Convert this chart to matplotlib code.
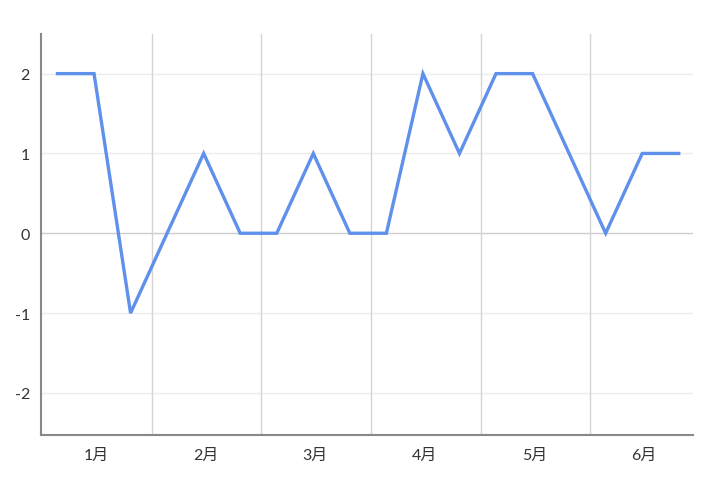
import matplotlib
matplotlib.use("Agg")
import matplotlib.pyplot as plt

values = [2, 2, -1, 0, 1, 0, 0, 1, 0, 0, 2, 1, 2, 2, 1, 0, 1, 1]
months = ["1月", "2月", "3月", "4月", "5月", "6月"]
y_ticks = [2, 1, 0, -1, -2]

plt.rcParams["font.family"] = ["Lato", "Noto Sans CJK JP", "DejaVu Sans"]

fig = plt.figure(figsize=(7.2, 4.89), dpi=100)
ax = fig.add_axes([0.057, 0.108, 0.906, 0.821])

x = list(range(len(values)))

# horizontal grid
for y in y_ticks:
    ax.axhline(y, color="#cccccc" if y == 0 else "#ececec", lw=1.0, zorder=0)
# month separators
for k in range(1, len(months)):
    ax.axvline(3 * k - 0.42, color="#d4d4d4", lw=1.0, zorder=0)

ax.plot(x, values, color="#5E90EC", lw=2.4, solid_joinstyle="miter", zorder=3)

ax.set_xlim(-0.45, 17.4)
ax.set_ylim(-2.53, 2.5)
ax.set_yticks(y_ticks)
ax.set_yticklabels([str(v) for v in y_ticks])
ax.set_xticks([1.05 + 3 * k for k in range(len(months))])
ax.set_xticklabels(months)

ax.tick_params(length=0, labelsize=11.5, colors="#333333")
ax.tick_params(axis="y", pad=8)
ax.tick_params(axis="x", pad=9)

for s in ["top", "right"]:
    ax.spines[s].set_visible(False)
for s in ["left", "bottom"]:
    ax.spines[s].set_color("#888888")
    ax.spines[s].set_linewidth(1.5)

fig.savefig("out.png", dpi=100)
